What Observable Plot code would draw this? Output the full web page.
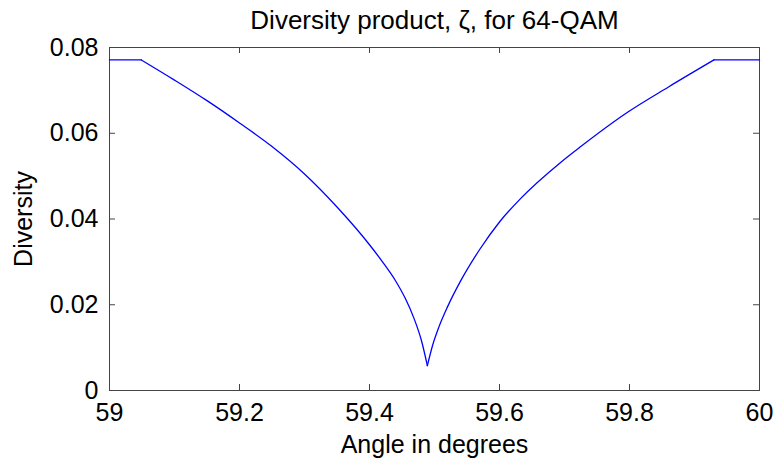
<!DOCTYPE html>
<html>
<head>
<meta charset="utf-8">
<script src="https://cdn.jsdelivr.net/npm/d3@7"></script>
<script src="https://cdn.jsdelivr.net/npm/@observablehq/plot@0.6"></script>
<style>
  html, body { margin: 0; padding: 0; background: #fff; }
  #chart svg { display: block; }
</style>
</head>
<body>
<div id="chart"></div>
<script>
// Diversity product vs. rotation angle for 64-QAM
const angleDeg = [
  59.000, 59.049, 59.100, 59.150, 59.200, 59.250, 59.300, 59.350,
  59.400, 59.420, 59.440, 59.455, 59.468, 59.480, 59.489, 59.497,
  59.507, 59.520, 59.540, 59.570, 59.600, 59.632, 59.694, 59.725,
  59.797, 59.860, 59.930, 60.000
];
const diversity = [
  0.0771, 0.0771, 0.0724, 0.0676, 0.0624, 0.0569, 0.0505, 0.0428,
  0.0340, 0.0300, 0.0256, 0.0215, 0.0170, 0.0116, 0.0058, 0.0105,
  0.0149, 0.0195, 0.0255, 0.0330, 0.0393, 0.0447, 0.0532, 0.0569,
  0.0649, 0.0708, 0.0771, 0.0771
];
const xTicks = [59, 59.2, 59.4, 59.6, 59.8, 60];
const yTicks = [0, 0.02, 0.04, 0.06, 0.08];
const titleText = "Diversity product, \u03B6, for 64-QAM";

// The curve has corners where the plateaus meet the slopes and at the
// minimum; each piece is drawn as its own smooth segment.
const cornerAngles = [59.049, 59.489, 59.930];
const rows = [];
angleDeg.forEach((a, i) => {
  const v = diversity[i];
  const seg = cornerAngles.filter(c => a > c).length;
  rows.push({angle: a, value: v, seg});
  if (cornerAngles.includes(a)) rows.push({angle: a, value: v, seg: seg + 1});
});

const W = 775, H = 462;
const mL = 109, mR = 16, mT = 47, mB = 72;
const innerW = W - mL - mR, innerH = H - mT - mB;
const tickLen = 6;
const axisColor = "#444";

const chart = Plot.plot({
  width: W,
  height: H,
  marginLeft: mL,
  marginRight: mR,
  marginTop: mT,
  marginBottom: mB,
  style: {fontFamily: "'Liberation Sans', Arial, sans-serif", fontSize: "25px", color: "#000", background: "#fff"},
  x: {domain: [59, 60]},
  y: {domain: [0, 0.08]},
  marks: [
    Plot.frame({stroke: axisColor, strokeWidth: 1}),
    // inward tick marks on all four sides
    Plot.ruleX(xTicks, {stroke: axisColor, insetTop: innerH - tickLen}),
    Plot.ruleX(xTicks, {stroke: axisColor, insetBottom: innerH - tickLen}),
    Plot.ruleY(yTicks, {stroke: axisColor, insetRight: innerW - tickLen}),
    Plot.ruleY(yTicks, {stroke: axisColor, insetLeft: innerW - tickLen}),
    Plot.axisX(xTicks, {
      tickSize: 0, tickPadding: 13, tickFormat: d => String(d),
      fontSize: 25, label: "Angle in degrees", labelAnchor: "center",
      labelArrow: "none", labelOffset: 62
    }),
    Plot.axisY(yTicks, {
      tickSize: 0, tickPadding: 11, tickFormat: d => String(d),
      fontSize: 25, label: "Diversity", labelAnchor: "center",
      labelArrow: "none", labelOffset: 95
    }),
    Plot.line(rows, {x: "angle", y: "value", z: "seg", stroke: "#0000ff", strokeWidth: 1.3, curve: "monotone-x"}),
    Plot.text([titleText], {
      frameAnchor: "top", dy: -27, lineAnchor: "middle",
      fontSize: 26, fill: "#000"
    })
  ]
});

document.getElementById("chart").appendChild(chart);
</script>
</body>
</html>
